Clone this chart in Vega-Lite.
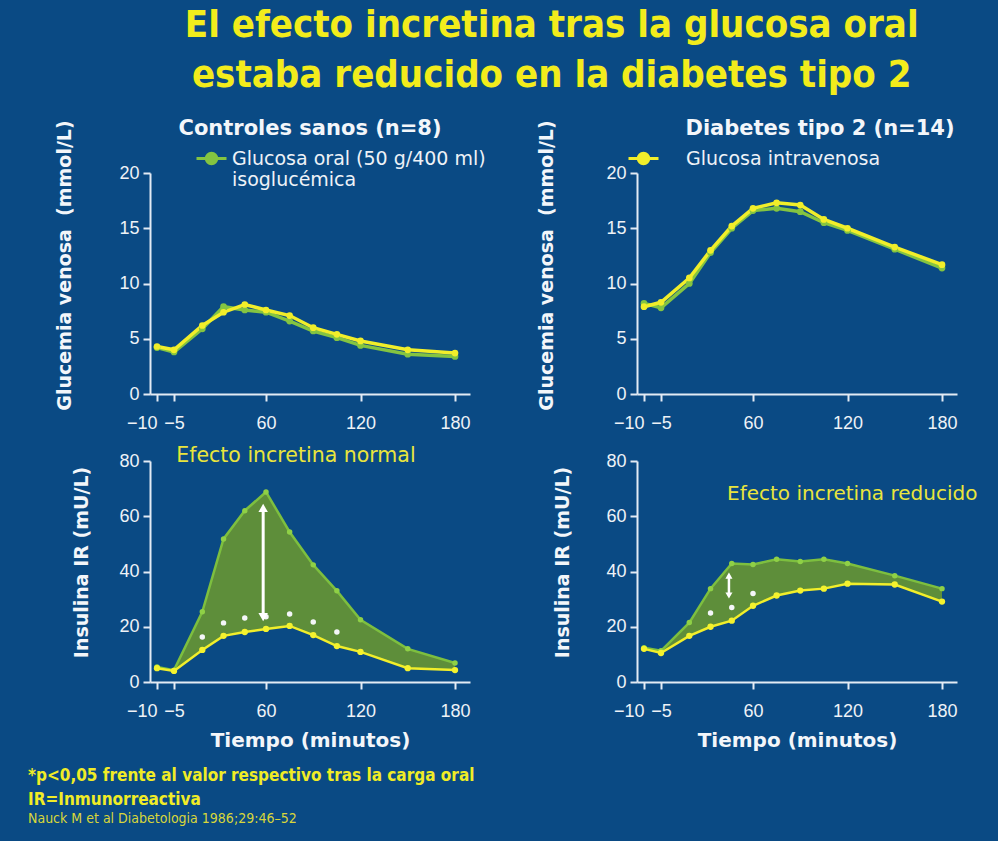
{
  "$schema": "https://vega.github.io/schema/vega-lite/v6.json",
  "background": "#0a4a84",
  "padding": {"left": 28, "top": 6, "right": 20, "bottom": 15},
  "title": {
    "text": ["El efecto incretina tras la glucosa oral", "estaba reducido en la diabetes tipo 2"],
    "font": "Liberation Sans Narrow, DejaVu Sans Condensed, Liberation Sans",
    "fontSize": 38, "fontWeight": "bold", "color": "#f2ec1c", "lineHeight": 50,
    "anchor": "middle", "offset": 23, "dx": 49
  },
  "datasets": {
    "glucosa": [
      {"g": "sanos", "s": "oral", "t": -10, "v": 4.2}, {"g": "sanos", "s": "oral", "t": -5, "v": 3.8},
      {"g": "sanos", "s": "oral", "t": 15, "v": 5.9}, {"g": "sanos", "s": "oral", "t": 30, "v": 7.9},
      {"g": "sanos", "s": "oral", "t": 45, "v": 7.6}, {"g": "sanos", "s": "oral", "t": 60, "v": 7.4},
      {"g": "sanos", "s": "oral", "t": 75, "v": 6.6}, {"g": "sanos", "s": "oral", "t": 90, "v": 5.7},
      {"g": "sanos", "s": "oral", "t": 105, "v": 5.1}, {"g": "sanos", "s": "oral", "t": 120, "v": 4.4},
      {"g": "sanos", "s": "oral", "t": 150, "v": 3.6}, {"g": "sanos", "s": "oral", "t": 180, "v": 3.4},
      {"g": "sanos", "s": "iv", "t": -10, "v": 4.3}, {"g": "sanos", "s": "iv", "t": -5, "v": 4.0},
      {"g": "sanos", "s": "iv", "t": 15, "v": 6.2}, {"g": "sanos", "s": "iv", "t": 30, "v": 7.4},
      {"g": "sanos", "s": "iv", "t": 45, "v": 8.1}, {"g": "sanos", "s": "iv", "t": 60, "v": 7.6},
      {"g": "sanos", "s": "iv", "t": 75, "v": 7.1}, {"g": "sanos", "s": "iv", "t": 90, "v": 6.0},
      {"g": "sanos", "s": "iv", "t": 105, "v": 5.4}, {"g": "sanos", "s": "iv", "t": 120, "v": 4.8},
      {"g": "sanos", "s": "iv", "t": 150, "v": 4.0}, {"g": "sanos", "s": "iv", "t": 180, "v": 3.7},
      {"g": "dt2", "s": "oral", "t": -10, "v": 8.2}, {"g": "dt2", "s": "oral", "t": -5, "v": 7.8},
      {"g": "dt2", "s": "oral", "t": 15, "v": 10.0}, {"g": "dt2", "s": "oral", "t": 30, "v": 12.8},
      {"g": "dt2", "s": "oral", "t": 45, "v": 15.0}, {"g": "dt2", "s": "oral", "t": 60, "v": 16.6},
      {"g": "dt2", "s": "oral", "t": 75, "v": 16.8}, {"g": "dt2", "s": "oral", "t": 90, "v": 16.5},
      {"g": "dt2", "s": "oral", "t": 105, "v": 15.5}, {"g": "dt2", "s": "oral", "t": 120, "v": 14.8},
      {"g": "dt2", "s": "oral", "t": 150, "v": 13.1}, {"g": "dt2", "s": "oral", "t": 180, "v": 11.4},
      {"g": "dt2", "s": "iv", "t": -10, "v": 7.9}, {"g": "dt2", "s": "iv", "t": -5, "v": 8.3},
      {"g": "dt2", "s": "iv", "t": 15, "v": 10.5}, {"g": "dt2", "s": "iv", "t": 30, "v": 13.0},
      {"g": "dt2", "s": "iv", "t": 45, "v": 15.2}, {"g": "dt2", "s": "iv", "t": 60, "v": 16.8},
      {"g": "dt2", "s": "iv", "t": 75, "v": 17.3}, {"g": "dt2", "s": "iv", "t": 90, "v": 17.1},
      {"g": "dt2", "s": "iv", "t": 105, "v": 15.8}, {"g": "dt2", "s": "iv", "t": 120, "v": 15.0},
      {"g": "dt2", "s": "iv", "t": 150, "v": 13.3}, {"g": "dt2", "s": "iv", "t": 180, "v": 11.7}
    ],
    "insulina": [
      {"g": "sanos", "t": -10, "oral": 5.4, "iv": 5.0}, {"g": "sanos", "t": -5, "oral": 4.3, "iv": 4.0},
      {"g": "sanos", "t": 15, "oral": 25.4, "iv": 11.6}, {"g": "sanos", "t": 30, "oral": 51.8, "iv": 16.7},
      {"g": "sanos", "t": 45, "oral": 62.0, "iv": 18.1}, {"g": "sanos", "t": 60, "oral": 68.8, "iv": 19.2},
      {"g": "sanos", "t": 75, "oral": 54.3, "iv": 20.3}, {"g": "sanos", "t": 90, "oral": 42.4, "iv": 17.0},
      {"g": "sanos", "t": 105, "oral": 33.0, "iv": 13.0}, {"g": "sanos", "t": 120, "oral": 22.5, "iv": 10.9},
      {"g": "sanos", "t": 150, "oral": 12.0, "iv": 5.0}, {"g": "sanos", "t": 180, "oral": 6.9, "iv": 4.3},
      {"g": "dt2", "t": -10, "oral": 12.4, "iv": 12.0}, {"g": "dt2", "t": -5, "oral": 11.3, "iv": 10.5},
      {"g": "dt2", "t": 15, "oral": 21.5, "iv": 16.7}, {"g": "dt2", "t": 30, "oral": 33.8, "iv": 20.0},
      {"g": "dt2", "t": 45, "oral": 42.9, "iv": 22.2}, {"g": "dt2", "t": 60, "oral": 42.5, "iv": 27.6},
      {"g": "dt2", "t": 75, "oral": 44.4, "iv": 31.3}, {"g": "dt2", "t": 90, "oral": 43.6, "iv": 33.1},
      {"g": "dt2", "t": 105, "oral": 44.4, "iv": 33.8}, {"g": "dt2", "t": 120, "oral": 42.9, "iv": 35.6},
      {"g": "dt2", "t": 150, "oral": 38.5, "iv": 35.3}, {"g": "dt2", "t": 180, "oral": 33.8, "iv": 29.1}
    ],
    "asteriscos": [
      {"g": "sanos", "t": 15, "v": 16.3}, {"g": "sanos", "t": 30, "v": 21.4}, {"g": "sanos", "t": 45, "v": 23.2},
      {"g": "sanos", "t": 60, "v": 23.6}, {"g": "sanos", "t": 75, "v": 24.6}, {"g": "sanos", "t": 90, "v": 21.7},
      {"g": "sanos", "t": 105, "v": 18.1},
      {"g": "dt2", "t": 30, "v": 25.0}, {"g": "dt2", "t": 45, "v": 27.0}, {"g": "dt2", "t": 60, "v": 32.0}
    ],
    "flechas": [
      {"g": "sanos", "t": 58, "lo": 23.5, "hi": 63.0},
      {"g": "dt2", "t": 43, "lo": 31.3, "hi": 38.5}
    ],
    "notas": [
      {"g": "sanos", "t": 79, "v": 80, "texto": "Efecto incretina normal"},
      {"g": "dt2", "t": 123, "v": 68, "texto": "Efecto incretina reducido"}
    ]
  },
  "columns": 2,
  "bounds": "flush",
  "spacing": {"row": 67, "column": 167},
  "resolve": {"scale": {"x": "independent", "y": "independent", "color": "independent"}, "legend": {"color": "independent"}},
  "concat": [
    {
      "width": 320, "height": 221,
      "title": {"text": "Controles sanos (n=8)", "offset": -19},
      "data": {"name": "glucosa"},
      "transform": [{"filter": "datum.g == 'sanos'"}],
      "encoding": {
        "x": {"field": "t", "type": "quantitative",
          "scale": {"domain": [-12, -10, -5, 60, 180, 189.5], "range": [0, 7, 24, 116, 305, 320], "nice": false, "zero": false},
          "axis": {"values": [-10, -5, 60, 120, 180], "title": null, "labelOverlap": false, "labelFlush": false,
            "labelAlign": {"condition": {"test": "datum.value == -10", "value": "right"}, "value": "center"}}},
        "y": {"field": "v", "type": "quantitative", "scale": {"domain": [0, 20], "nice": false},
          "axis": {"values": [0, 5, 10, 15, 20], "title": "Glucemia venosa\u00a0\u00a0(mmol/L)", "titlePadding": 44, "titleY": 92}},
        "color": {"field": "s", "type": "nominal",
          "scale": {"domain": ["oral", "iv"], "range": ["#84c441", "#f1ee2a"]},
          "legend": {"title": null, "values": ["oral"], "orient": "none", "legendX": 45, "legendY": -31,
            "symbolType": "M-1,0L1,0M-0.35,0A0.35,0.35,0,1,0,0.35,0A0.35,0.35,0,1,0,-0.35,0Z",
            "symbolSize": 900, "symbolStrokeWidth": 3, "labelOffset": 4, "labelLimit": 400,
            "labelExpr": "datum.value == 'oral' ? ['Glucosa oral (50 g/400 ml)', 'isoglucémica'] : 'Glucosa intravenosa'",
            "encode": {"symbols": {"update": {"fill": {"value": "#84c441"}, "stroke": {"value": "#84c441"}}}}}}
      },
      "layer": [
        {"mark": {"type": "line", "strokeWidth": 3.5}},
        {"mark": {"type": "point", "filled": true, "size": 45, "opacity": 1}}
      ]
    },
    {
      "width": 320, "height": 221,
      "title": {"text": "Diabetes tipo 2 (n=14)", "offset": -19, "dx": 23},
      "data": {"name": "glucosa"},
      "transform": [{"filter": "datum.g == 'dt2'"}],
      "encoding": {
        "x": {"field": "t", "type": "quantitative",
          "scale": {"domain": [-12, -10, -5, 60, 180, 189.5], "range": [0, 7, 24, 116, 305, 320], "nice": false, "zero": false},
          "axis": {"values": [-10, -5, 60, 120, 180], "title": null, "labelOverlap": false, "labelFlush": false,
            "labelAlign": {"condition": {"test": "datum.value == -10", "value": "right"}, "value": "center"}}},
        "y": {"field": "v", "type": "quantitative", "scale": {"domain": [0, 20], "nice": false},
          "axis": {"values": [0, 5, 10, 15, 20], "title": "Glucemia venosa\u00a0\u00a0(mmol/L)", "titlePadding": 49, "titleY": 92}},
        "color": {"field": "s", "type": "nominal",
          "scale": {"domain": ["oral", "iv"], "range": ["#84c441", "#f1ee2a"]},
          "legend": {"title": null, "values": ["iv"], "orient": "none", "legendX": -10, "legendY": -31,
            "symbolType": "M-1,0L1,0M-0.35,0A0.35,0.35,0,1,0,0.35,0A0.35,0.35,0,1,0,-0.35,0Z",
            "symbolSize": 900, "symbolStrokeWidth": 3, "labelOffset": 26, "labelLimit": 400,
            "labelExpr": "datum.value == 'oral' ? 'Glucosa oral' : 'Glucosa intravenosa'",
            "encode": {"symbols": {"update": {"fill": {"value": "#f1ee2a"}, "stroke": {"value": "#f1ee2a"}}}}}}
      },
      "layer": [
        {"mark": {"type": "line", "strokeWidth": 3.5}},
        {"mark": {"type": "point", "filled": true, "size": 45, "opacity": 1}}
      ]
    },
    {
      "width": 320, "height": 221,
      "title": {
        "text": ["*p<0,05 frente al valor respectivo tras la carga oral", "IR=Inmunorreactiva"],
        "subtitle": "Nauck M et al Diabetologia 1986;29:46–52",
        "orient": "bottom", "anchor": "start", "frame": "group", "dx": -122, "offset": 18,
        "font": "Liberation Sans Narrow, DejaVu Sans Condensed, Liberation Sans",
        "fontSize": 17, "fontWeight": "bold", "color": "#f0ec26", "lineHeight": 24,
        "subtitleFont": "Liberation Sans Narrow, DejaVu Sans Condensed, Liberation Sans",
        "subtitleFontSize": 14, "subtitleColor": "#d8d63a"
      },
      "encoding": {
        "x": {"field": "t", "type": "quantitative",
          "scale": {"domain": [-12, -10, -5, 60, 180, 189.5], "range": [0, 7, 24, 116, 305, 320], "nice": false, "zero": false},
          "axis": {"values": [-10, -5, 60, 120, 180], "title": "Tiempo (minutos)", "labelOverlap": false, "labelFlush": false,
            "labelAlign": {"condition": {"test": "datum.value == -10", "value": "right"}, "value": "center"}}}
      },
      "layer": [
        {"data": {"name": "insulina"}, "transform": [{"filter": "datum.g == 'sanos'"}],
         "mark": {"type": "area", "color": "#5e8e3a", "opacity": 1},
         "encoding": {"y": {"field": "oral", "type": "quantitative", "scale": {"domain": [0, 80], "nice": false},
            "axis": {"values": [0, 20, 40, 60, 80], "title": "Insulina IR (mU/L)", "titlePadding": 27, "titleY": 101}},
            "y2": {"field": "iv"}}},
        {"data": {"name": "insulina"}, "transform": [{"filter": "datum.g == 'sanos'"}],
         "mark": {"type": "line", "color": "#7dbf3f", "strokeWidth": 2.5, "point": {"filled": true, "size": 30, "color": "#8fd046"}},
         "encoding": {"y": {"field": "oral", "type": "quantitative"}}},
        {"data": {"name": "insulina"}, "transform": [{"filter": "datum.g == 'sanos'"}],
         "mark": {"type": "line", "color": "#f1ee2a", "strokeWidth": 2.5, "point": {"filled": true, "size": 40, "color": "#f4f22e"}},
         "encoding": {"y": {"field": "iv", "type": "quantitative"}}},
        {"data": {"name": "asteriscos"}, "transform": [{"filter": "datum.g == 'sanos'"}],
         "mark": {"type": "point", "filled": true, "size": 30, "color": "#f4f6f8", "opacity": 1},
         "encoding": {"y": {"field": "v", "type": "quantitative"}}},
        {"data": {"name": "flechas"}, "transform": [{"filter": "datum.g == 'sanos'"}],
         "mark": {"type": "rule", "color": "#ffffff", "strokeWidth": 3},
         "encoding": {"y": {"field": "lo", "type": "quantitative"}, "y2": {"field": "hi"}}},
        {"data": {"name": "flechas"}, "transform": [{"filter": "datum.g == 'sanos'"}],
         "mark": {"type": "point", "shape": "triangle-up", "filled": true, "size": 90, "color": "#ffffff", "opacity": 1},
         "encoding": {"y": {"field": "hi", "type": "quantitative"}}},
        {"data": {"name": "flechas"}, "transform": [{"filter": "datum.g == 'sanos'"}],
         "mark": {"type": "point", "shape": "triangle-down", "filled": true, "size": 90, "color": "#ffffff", "opacity": 1},
         "encoding": {"y": {"field": "lo", "type": "quantitative"}}},
        {"data": {"name": "notas"}, "transform": [{"filter": "datum.g == 'sanos'"}],
         "mark": {"type": "text", "color": "#e9e53c", "fontSize": 20.5, "dy": -5, "font": "DejaVu Sans, Liberation Sans"},
         "encoding": {"y": {"field": "v", "type": "quantitative"}, "text": {"field": "texto"}}}
      ]
    },
    {
      "width": 320, "height": 221,
      "encoding": {
        "x": {"field": "t", "type": "quantitative",
          "scale": {"domain": [-12, -10, -5, 60, 180, 189.5], "range": [0, 7, 24, 116, 305, 320], "nice": false, "zero": false},
          "axis": {"values": [-10, -5, 60, 120, 180], "title": "Tiempo (minutos)", "labelOverlap": false, "labelFlush": false,
            "labelAlign": {"condition": {"test": "datum.value == -10", "value": "right"}, "value": "center"}}}
      },
      "layer": [
        {"data": {"name": "insulina"}, "transform": [{"filter": "datum.g == 'dt2'"}],
         "mark": {"type": "area", "color": "#5e8e3a", "opacity": 1},
         "encoding": {"y": {"field": "oral", "type": "quantitative", "scale": {"domain": [0, 80], "nice": false},
            "axis": {"values": [0, 20, 40, 60, 80], "title": "Insulina IR (mU/L)", "titlePadding": 33, "titleY": 101}},
            "y2": {"field": "iv"}}},
        {"data": {"name": "insulina"}, "transform": [{"filter": "datum.g == 'dt2'"}],
         "mark": {"type": "line", "color": "#7dbf3f", "strokeWidth": 2.5, "point": {"filled": true, "size": 30, "color": "#8fd046"}},
         "encoding": {"y": {"field": "oral", "type": "quantitative"}}},
        {"data": {"name": "insulina"}, "transform": [{"filter": "datum.g == 'dt2'"}],
         "mark": {"type": "line", "color": "#f1ee2a", "strokeWidth": 2.5, "point": {"filled": true, "size": 40, "color": "#f4f22e"}},
         "encoding": {"y": {"field": "iv", "type": "quantitative"}}},
        {"data": {"name": "asteriscos"}, "transform": [{"filter": "datum.g == 'dt2'"}],
         "mark": {"type": "point", "filled": true, "size": 30, "color": "#f4f6f8", "opacity": 1},
         "encoding": {"y": {"field": "v", "type": "quantitative"}}},
        {"data": {"name": "flechas"}, "transform": [{"filter": "datum.g == 'dt2'"}],
         "mark": {"type": "rule", "color": "#ffffff", "strokeWidth": 2.5},
         "encoding": {"y": {"field": "lo", "type": "quantitative"}, "y2": {"field": "hi"}}},
        {"data": {"name": "flechas"}, "transform": [{"filter": "datum.g == 'dt2'"}],
         "mark": {"type": "point", "shape": "triangle-up", "filled": true, "size": 50, "color": "#ffffff", "opacity": 1},
         "encoding": {"y": {"field": "hi", "type": "quantitative"}}},
        {"data": {"name": "flechas"}, "transform": [{"filter": "datum.g == 'dt2'"}],
         "mark": {"type": "point", "shape": "triangle-down", "filled": true, "size": 50, "color": "#ffffff", "opacity": 1},
         "encoding": {"y": {"field": "lo", "type": "quantitative"}}},
        {"data": {"name": "notas"}, "transform": [{"filter": "datum.g == 'dt2'"}],
         "mark": {"type": "text", "color": "#e9e53c", "fontSize": 20, "font": "DejaVu Sans, Liberation Sans"},
         "encoding": {"y": {"field": "v", "type": "quantitative"}, "text": {"field": "texto"}}}
      ]
    }
  ],
  "config": {
    "view": {"stroke": null},
    "font": "Liberation Sans",
    "title": {"color": "#f3f6fa", "font": "DejaVu Sans, Liberation Sans", "fontSize": 21, "fontWeight": "bold", "anchor": "middle"},
    "axis": {"domainColor": "#e3ebf4", "domainWidth": 2, "tickColor": "#e3ebf4", "tickWidth": 2, "tickSize": 7,
      "labelColor": "#eef2f7", "labelFontSize": 18, "labelFont": "Liberation Sans", "labelPadding": 4,
      "titleColor": "#f3f6fa", "titleFont": "DejaVu Sans, Liberation Sans", "titleFontWeight": "bold", "titleFontSize": 19, "grid": false},
    "axisX": {"titleFontSize": 20, "titlePadding": 10, "labelPadding": 13},
    "legend": {"labelFont": "DejaVu Sans, Liberation Sans", "labelFontSize": 19, "labelColor": "#eef2f7", "padding": 0}
  }
}
